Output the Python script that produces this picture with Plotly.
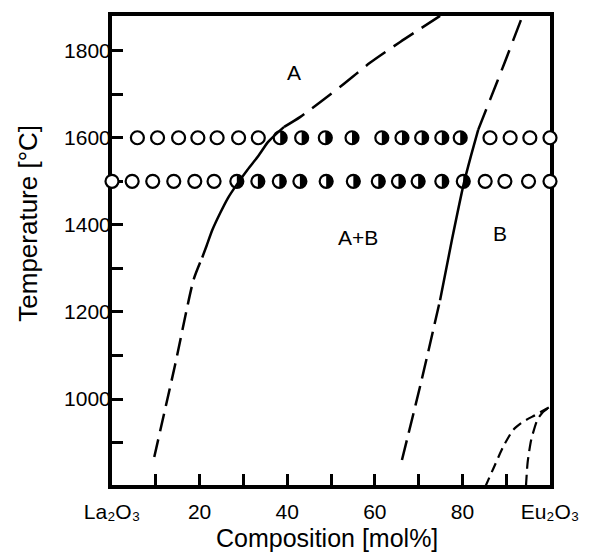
import numpy as np
import plotly.graph_objects as go

# ---------------- data ----------------
# measurement points (composition mol% Eu2O3, temperature)
row1600_x = [5.8, 10.4, 15.2, 19.6, 24.0, 28.9, 33.4, 38.4, 43.3, 48.7, 54.8, 61.6, 66.2,
             70.7, 75.3, 79.5, 86.3, 90.9, 95.4, 100.0]
row1600_phase = ["A"] * 7 + ["AB"] * 9 + ["B"] * 4
row1500_x = [0.0, 4.6, 9.3, 14.1, 18.9, 23.3, 28.5, 33.3, 38.2, 42.9, 48.9, 55.1, 60.8,
             65.4, 69.9, 75.3, 80.2, 85.2, 89.7, 95.1, 100.0]
row1500_phase = ["A"] * 6 + ["AB"] * 11 + ["B"] * 4
row_temps = [1600, 1500]

# boundary A / A+B
ab_low_x = [9.65, 14.4, 18.6, 20.6]
ab_low_y = [867, 1078, 1273, 1325]
ab_mid_x = [20.6, 21.6, 22.9, 24.7, 26.5, 28.6, 30.9, 33.4, 35.6, 37.5, 39.3]
ab_mid_y = [1325, 1352, 1388, 1427, 1462, 1494, 1526, 1558, 1590, 1609, 1625]
ab_up_x = [39.3, 43.0, 52.1, 58.9, 65.8, 74.9]
ab_up_y = [1625, 1648, 1717, 1772, 1820, 1880]

# boundary A+B / B
bb_low_x = [66.2, 70.7, 74.9]
bb_low_y = [860, 1044, 1227]
bb_mid_x = [74.9, 77.6, 80.3, 82.0, 83.6]
bb_mid_y = [1227, 1365, 1494, 1560, 1618]
bb_up_x = [83.6, 86.3, 89.7, 93.5]
bb_up_y = [1618, 1687, 1774, 1874]

# low-temperature curves near Eu2O3
lt1_x = [85.2, 87.1, 89.3, 91.6, 93.9, 96.6, 100.0]
lt1_y = [798, 841, 890, 929, 948, 963, 982]
lt2_x = [94.5, 94.9, 95.7, 97.1, 98.4, 100.0]
lt2_y = [798, 855, 906, 952, 970, 982]

region_labels = ["A", "A+B", "B"]
region_x = [41.6, 56.2, 88.6]
region_y = [1750, 1372, 1379]

x_tickvals = [0, 20, 40, 60, 80, 100]
x_ticktext = ["La₂O₃", "20", "40", "60", "80", "Eu₂O₃"]
x_minorvals = [10, 30, 50, 70, 90]
y_tickvals = [1000, 1200, 1400, 1600, 1800]
y_ticktext = ["1000", "1200", "1400", "1600", "1800"]
y_minorvals = [900, 1100, 1300, 1500, 1700]

# ---------------- layout constants ----------------
W, H = 594, 552
ML, MR, MT, MB = 112, 44, 16, 67
XR = [0, 100]
YR = [802.5, 1879.6]
FONT = "Liberation Sans, Arial, sans-serif"

px_per_x = (W - ML - MR) / (XR[1] - XR[0])
px_per_y = (H - MT - MB) / (YR[1] - YR[0])

fig = go.Figure()

# all circles (white)
all_x = row1600_x + row1500_x
all_y = [row_temps[0]] * len(row1600_x) + [row_temps[1]] * len(row1500_x)
fig.add_trace(go.Scatter(
    x=all_x, y=all_y, mode="markers", cliponaxis=False, showlegend=False,
    marker=dict(symbol="circle", size=13, color="white",
                line=dict(color="black", width=2.2))))

# right-half black fill for two-phase points
r_px = 6.6
t = np.linspace(-np.pi / 2, np.pi / 2, 25)
hx, hy = [], []
for xs, ph, T in [(row1600_x, row1600_phase, row_temps[0]),
                  (row1500_x, row1500_phase, row_temps[1])]:
    for xv, p in zip(xs, ph):
        if p == "AB":
            hx += list(xv + r_px / px_per_x * np.cos(t)) + [xv, None]
            hy += list(T + r_px / px_per_y * np.sin(t)) + [T, None]
fig.add_trace(go.Scatter(x=hx, y=hy, mode="lines", fill="toself", fillcolor="black",
                         line=dict(width=0, color="black"), showlegend=False,
                         hoverinfo="skip"))


def line(x, y, dash, w=2.5):
    fig.add_trace(go.Scatter(x=x, y=y, mode="lines", showlegend=False,
                             line=dict(color="black", width=w, dash=dash,
                                       shape="spline", smoothing=0.6)))


line(ab_low_x, ab_low_y, "18px,8px")
line(ab_mid_x, ab_mid_y, "solid")
line(ab_up_x, ab_up_y, "24px,10px")
line(bb_low_x, bb_low_y, "20px,8px")
line(bb_mid_x, bb_mid_y, "solid")
line(bb_up_x, bb_up_y, "22px,10px")
line(lt1_x, lt1_y, "10px,6px", 2.2)
line(lt2_x, lt2_y, "12px,6px", 2.2)

annotations = []
for txt, xv, yv in zip(region_labels, region_x, region_y):
    annotations.append(dict(x=xv, y=yv, xref="x", yref="y", text=txt, showarrow=False,
                            font=dict(family=FONT, size=21, color="black")))

annotations.append(dict(x=-0.192, y=0.559, xref="paper", yref="paper",
                        text="Temperature [°C]", textangle=-90, showarrow=False,
                        xanchor="center", yanchor="middle",
                        font=dict(family=FONT, size=26, color="black")))
annotations.append(dict(x=0.492, y=-0.113, xref="paper", yref="paper",
                        text="Composition [mol%]", showarrow=False,
                        xanchor="center", yanchor="middle",
                        font=dict(family=FONT, size=25, color="black")))


def axis(rng, vals, text, minorvals, standoff):
    return dict(range=rng, tickmode="array", tickvals=vals, ticktext=text,
                showgrid=False, zeroline=False, showline=True, linewidth=4,
                linecolor="black", mirror=True, ticks="inside", ticklen=11,
                tickwidth=3, tickcolor="black", layer="below traces",
                ticklabelstandoff=standoff,
                tickfont=dict(family=FONT, size=21, color="black"),
                minor=dict(tickmode="array", tickvals=minorvals, ticks="inside",
                           ticklen=11, tickwidth=3, tickcolor="black", showgrid=False))


fig.update_layout(
    width=W, height=H, margin=dict(l=ML, r=MR, t=MT, b=MB),
    paper_bgcolor="white", plot_bgcolor="white",
    xaxis=axis(XR, x_tickvals, x_ticktext, x_minorvals, 5),
    yaxis=axis(YR, y_tickvals, y_ticktext, y_minorvals, -7),
    annotations=annotations,
    font=dict(family=FONT, color="black"),
)

fig.write_html("out.html")
